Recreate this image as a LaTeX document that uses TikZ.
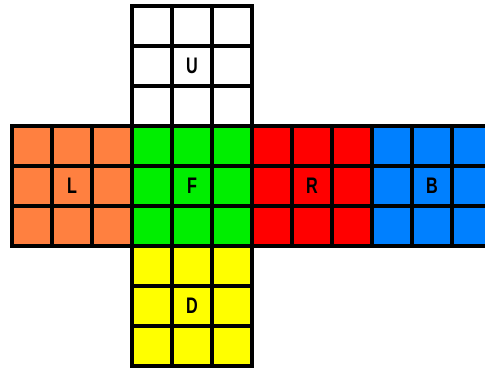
\documentclass[tikz,border=0pt]{standalone}
\usepackage{fontspec}
\setmainfont{Liberation Sans}
\usetikzlibrary{positioning}
\definecolor{faceU}{HTML}{FFFFFF}
\definecolor{faceL}{HTML}{FF8040}
\definecolor{faceF}{HTML}{00EE00}
\definecolor{faceR}{HTML}{FF0000}
\definecolor{faceB}{HTML}{0080FF}
\definecolor{faceD}{HTML}{FFFF00}
\begin{document}
\begin{tikzpicture}[
    x=1cm, y=1cm,
    stickers/.style={draw=black, line width=0.1cm},
    facelabel/.style={font=\fontsize{16}{16}\selectfont\bfseries, xscale=0.72,
                      transform shape, inner sep=0pt}
]
  \useasboundingbox (-0.3,3.15) rectangle (11.825,-6.025);
  \clip (-0.3,3.15) rectangle (11.825,-6.025);
  % faces of the net: corner x/corner y/colour/letter
  \foreach \fx/\fy/\col/\lab in {3/3/faceU/U, 0/0/faceL/L, 3/0/faceF/F,
                                 6/0/faceR/R, 9/0/faceB/B, 3/-3/faceD/D}{
    \fill[\col] (\fx,\fy) rectangle ++(3,-3);
    \draw[stickers, step=1] (\fx,\fy) grid ++(3,-3);
    \draw[stickers] (\fx,\fy) rectangle ++(3,-3);
    \node[facelabel] (face\lab) at (\fx+1.5,\fy-1.5) {\lab};
  }
\end{tikzpicture}
\end{document}
